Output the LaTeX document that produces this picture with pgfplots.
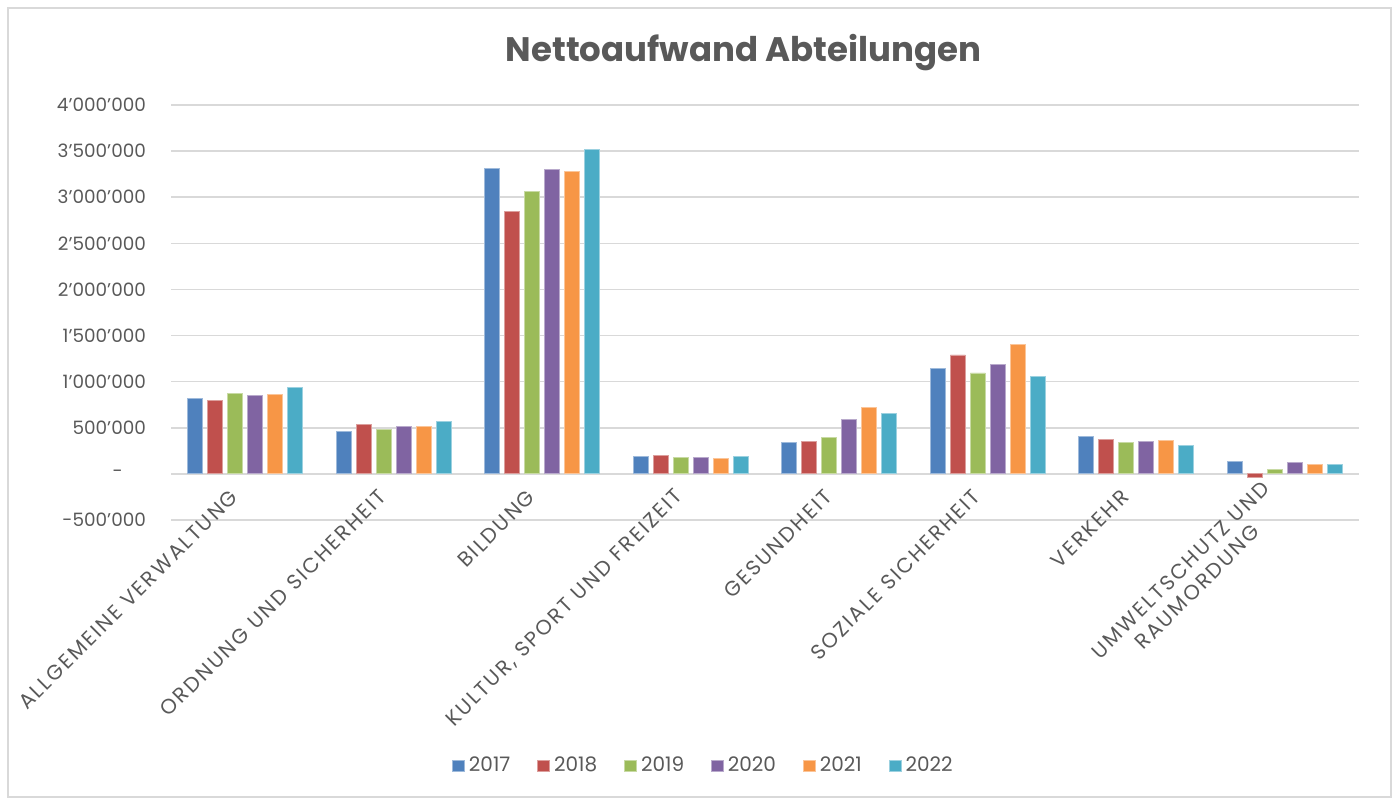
\documentclass[border=0pt]{standalone}
\usepackage{pgfplots}
\pgfplotsset{compat=1.18}
\usepackage{fontspec}
\setmainfont{Poppins}
\newfontfamily\labelfont[LetterSpace=10]{Poppins}
\definecolor{c1}{HTML}{4F81BD}
\definecolor{c2}{HTML}{C0504D}
\definecolor{c3}{HTML}{9BBB59}
\definecolor{c4}{HTML}{8064A2}
\definecolor{c5}{HTML}{F79646}
\definecolor{c6}{HTML}{4BACC6}
\definecolor{txt}{HTML}{595959}
\definecolor{gridc}{HTML}{D9D9D9}
\begin{document}
\begin{tikzpicture}
\begin{axis}[
  scale only axis,
  width=594pt, height=207.5pt,
  xmin=-0.5, xmax=7.5,
  ymin=-500000, ymax=4000000,
  scaled y ticks=false,
  ybar=2.5pt, bar width=7.5pt,
  xtick={0,...,7},
  xticklabels={ALLGEMEINE VERWALTUNG, ORDNUNG UND SICHERHEIT, BILDUNG, {KULTUR, SPORT UND FREIZEIT}, GESUNDHEIT, SOZIALE SICHERHEIT, VERKEHR, {UMWELTSCHUTZ UND\\RAUMORDUNG}},
  x tick label style={xshift=-3pt, rotate=45, anchor=east, align=center, font=\labelfont\fontsize{10.4}{12}\selectfont, text=txt},
  xticklabel shift=-20pt,
  ytick={-500000,0,500000,1000000,1500000,2000000,2500000,3000000,3500000,4000000},
  yticklabels={-500’000, {-\hphantom{00}}, 500’000, 1’000’000, 1’500’000, 2’000’000, 2’500’000, 3’000’000, 3’500’000, 4’000’000},
  y tick label style={font=\fontsize{9.2}{11}\selectfont, text=txt, xshift=-9pt},
  xmajorgrids=false, ymajorgrids=true, grid style={draw=gridc, line width=0.8pt},
  axis line style={draw=none},
  tick style={draw=none},
  title={\textbf{Nettoaufwand Abteilungen}},
  title style={font=\fontsize{17}{19}\selectfont, text=txt, at={(0.482,1.098)}, anchor=center},
  legend columns=6,
  legend style={draw=none, at={(0.449,-0.593)}, anchor=center, font=\fontsize{10}{11}\selectfont, text=txt,
    /tikz/every even column/.append style={column sep=11.5pt}},
  legend image code/.code={\fill[#1] (0pt,-2.8pt) rectangle (6pt,2.8pt);},
]
\addplot[fill=c1, draw=c1!55!white, line width=0.4pt] coordinates {(0,815000) (1,457000) (2,3311000) (3,188000) (4,337000) (5,1145000) (6,406000) (7,138000)};
\addplot[fill=c2, draw=c2!55!white, line width=0.4pt] coordinates {(0,797000) (1,536000) (2,2848000) (3,196000) (4,355000) (5,1290000) (6,373000) (7,-33000)};
\addplot[fill=c3, draw=c3!55!white, line width=0.4pt] coordinates {(0,870000) (1,485000) (2,3065000) (3,174000) (4,395000) (5,1094000) (6,337000) (7,47000)};
\addplot[fill=c4, draw=c4!55!white, line width=0.4pt] coordinates {(0,848000) (1,511000) (2,3301000) (3,174000) (4,587000) (5,1185000) (6,351000) (7,120000)};
\addplot[fill=c5, draw=c5!55!white, line width=0.4pt] coordinates {(0,862000) (1,511000) (2,3275000) (3,167000) (4,717000) (5,1402000) (6,362000) (7,105000)};
\addplot[fill=c6, draw=c6!55!white, line width=0.4pt] coordinates {(0,938000) (1,572000) (2,3518000) (3,188000) (4,656000) (5,1058000) (6,308000) (7,98000)};
\legend{2017,2018,2019,2020,2021,2022}
\end{axis}
\draw[gridc, line width=0.8pt] (-81.5pt,-138.5pt) rectangle (610pt,256pt);
\useasboundingbox (-85.5pt,-140.5pt) rectangle (614.5pt,260pt);
\end{tikzpicture}
\end{document}
